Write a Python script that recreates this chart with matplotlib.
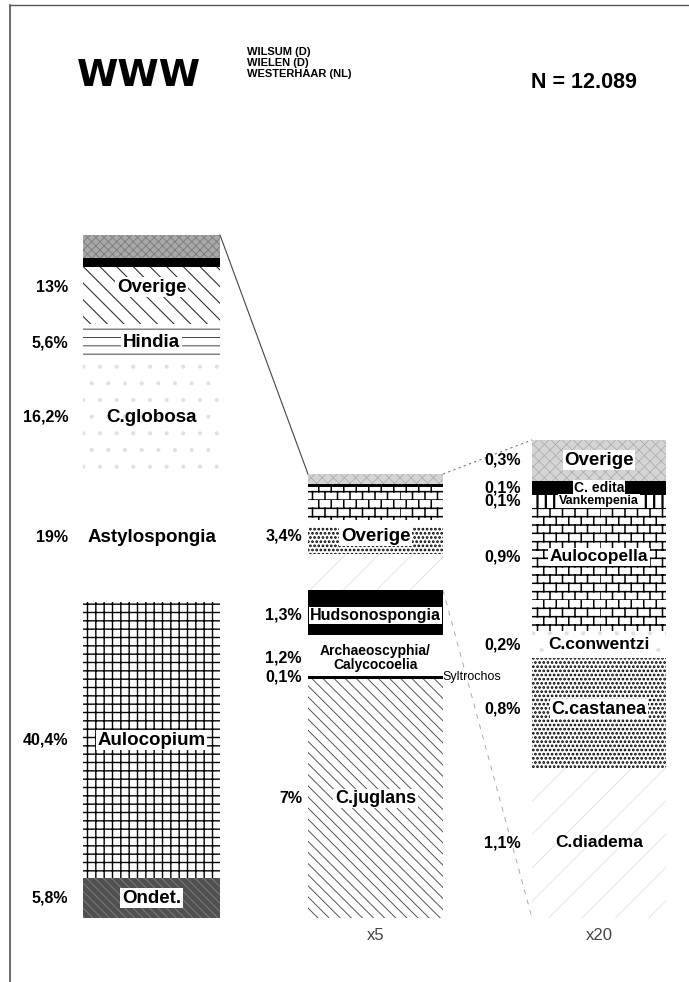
import warnings

import numpy as np
import matplotlib
matplotlib.use("Agg")
import matplotlib.pyplot as plt
from matplotlib import hatch as mhatch
from matplotlib.path import Path
from matplotlib.lines import Line2D

warnings.filterwarnings("ignore")

# ---------------------------------------------------------------- data
left_names = ["Overige", "Hindia", "C.globosa", "Astylospongia", "Aulocopium", "Ondet."]
left_pct = [13, 5.6, 16.2, 19, 40.4, 5.8]

mid_names = ["Overige", "Hudsonospongia", "Archaeoscyphia/\nCalycocoelia",
             "Syltrochos", "C.juglans"]
mid_pct = [3.4, 1.3, 1.2, 0.1, 7]

right_names = ["Overige", "C. edita", "Vankempenia", "Aulocopella",
               "C.conwentzi", "C.castanea", "C.diadema"]
right_pct = [0.3, 0.1, 0.1, 0.9, 0.2, 0.8, 1.1]

mid_factor = 5
right_factor = 20

title = "WWW"
sites = ["WILSUM (D)", "WIELEN (D)", "WESTERHAAR (NL)"]
sample_size = "N = 12.089"


# ---------------------------------------------------------------- brick hatch
class BrickHatch(mhatch.HatchPatternBase):
    """Running-bond brick pattern, selected with the 'k' hatch character."""

    def __init__(self, hatch, density):
        n = hatch.count("k")
        self.num_rows = int(n * density * 2)
        self.num_cols = max(1, int(self.num_rows * 2 / 3))
        self.num_vertices = self.num_rows * (2 + 2 * self.num_cols) if n else 0

    def set_vertices_and_codes(self, vertices, codes):
        h = 1.0 / self.num_rows
        w = 1.0 / self.num_cols
        verts = []
        for r in range(self.num_rows):
            y0 = r * h
            verts += [(0.0, y0), (1.0, y0)]
            off = 0.0 if r % 2 == 0 else w / 2
            for c in range(self.num_cols):
                x = c * w + off
                verts += [(x, y0), (x, y0 + h)]
        vertices[:] = np.array(verts)
        codes[0::2] = Path.MOVETO
        codes[1::2] = Path.LINETO


mhatch._hatch_types.append(BrickHatch)

# ---------------------------------------------------------------- styles
S = {
    "gray_dark": dict(fc="#a8a8a8", hatch="xxxx", hc="#7a7a7a", hlw=0.6),
    "gray_light": dict(fc="#d4d4d4", hatch="xxx", hc="#a8a8a8", hlw=0.5),
    "black": dict(fc="black", hatch=None, hc="black", hlw=1),
    "diag": dict(fc="white", hatch="\\\\", hc="#333333", hlw=0.8),
    "diag_fine": dict(fc="white", hatch="\\\\\\", hc="#555555", hlw=0.7),
    "hlines": dict(fc="white", hatch="--", hc="#444444", hlw=0.7),
    "sparse": dict(fc="white", hatch=".", hc="#e0e0e0", hlw=0.5),
    "white": dict(fc="white", hatch=None, hc="white", hlw=1),
    "grid": dict(fc="white", hatch="++", hc="black", hlw=1.0),
    "dark": dict(fc="#505050", hatch="\\\\\\\\", hc="#7c7c7c", hlw=0.7),
    "brick": dict(fc="white", hatch="k", hc="black", hlw=1.1),
    "pillars": dict(fc="white", hatch="||", hc="black", hlw=1.6),
    "dots": dict(fc="white", hatch="....", hc="black", hlw=1.3),
    "faint_diag": dict(fc="white", hatch="/", hc="#e2e2e2", hlw=0.6),
}

left_style = ["diag", "hlines", "sparse", "white", "grid", "dark"]
mid_style = [None, "black", "white", "black", "diag_fine"]
right_style = ["gray_light", "black", "pillars", "brick", "sparse", "dots", "faint_diag"]
group_style = ["gray_light", "black", "brick", "brick", "sparse", "dots", "faint_diag"]

# ---------------------------------------------------------------- layout
W, H = 689, 982
PX = 6.83          # pixels per percent
BASE = 918         # pixel row of the 0 % baseline

col_x = {"left": 151.5, "mid": 375.5, "right": 599.0}
col_w = {"left": 137, "mid": 135, "right": 134}
pct_gap = {"left": 15, "mid": 6, "right": 11}

name_size = {"Overige": 13.5, "Hindia": 13.5, "C.globosa": 13.5,
             "Astylospongia": 13.5, "Aulocopium": 13.5, "Ondet.": 13.5,
             "Hudsonospongia": 11.5, "Archaeoscyphia/\nCalycocoelia": 10,
             "Syltrochos": 9, "C.juglans": 13,
             "C. edita": 10, "Vankempenia": 9, "Aulocopella": 12.5,
             "C.conwentzi": 12.5, "C.castanea": 13, "C.diadema": 12.5}
# vertical nudges (pixels, positive = up) for a few labels
nudge = {("left", 0): 8, ("mid", 0): -4, ("mid", 1): -3, ("mid", 2): -3,
         ("right", 3): 13, ("right", 5): 4}

FONT = ["Liberation Sans", "DejaVu Sans"]
plt.rcParams["font.family"] = FONT

fig = plt.figure(figsize=(W / 100, H / 100), dpi=100)
ax = fig.add_axes([0, 0, 1, 1])
ax.set_xlim(0, W)
ax.set_ylim(-(H - BASE) / PX, BASE / PX)
ax.axis("off")


def draw_band(x, width, bottom, height, style):
    st = S[style]
    plt.rcParams["hatch.linewidth"] = st["hlw"]
    bar = ax.bar(x, height, bottom=bottom, width=width, color=st["fc"],
                 edgecolor=st["hc"], linewidth=0, hatch=st["hatch"], zorder=2)
    for p in bar.patches:
        if hasattr(p, "set_hatch_linewidth"):
            p.set_hatch_linewidth(st["hlw"])
    return bar


def stack_bottoms(vals):
    vals = np.asarray(vals, dtype=float)
    tops = vals[::-1].cumsum()[::-1]
    return tops - vals


def fmt_pct(v):
    return ("%g" % v).replace(".", ",") + "%"


box = dict(boxstyle="square,pad=0.08", fc="white", ec="none")


def column(key, pct, factor, styles):
    x, w = col_x[key], col_w[key]
    vals = np.asarray(pct, dtype=float) * factor
    bottoms = stack_bottoms(vals)
    for i, (b, v) in enumerate(zip(bottoms, vals)):
        if styles[i] is not None:
            draw_band(x, w, b, v, styles[i])
    return bottoms, vals


def labels(key, names, bottoms, vals, pct, skip_box=()):
    x, w = col_x[key], col_w[key]
    for i, name in enumerate(names):
        yc = bottoms[i] + vals[i] / 2 + nudge.get((key, i), 0) / PX
        ax.text(x - w / 2 - pct_gap[key], yc, fmt_pct(pct[i]), ha="right",
                va="center", fontsize=11.5, fontweight="bold", zorder=5)
        if name == "Syltrochos":
            ax.text(x + w / 2 - 1, yc, name, ha="left", va="center",
                    fontsize=name_size[name], zorder=5)
            continue
        kw = dict(bbox=box) if i not in skip_box else {}
        ax.text(x, yc, name, ha="center", va="center",
                fontsize=name_size[name], fontweight="bold",
                linespacing=1.05, zorder=5, **kw)


# left column: whole sample
lb, lv = column("left", left_pct, 1, left_style)
# top of "Overige": the parts that are expanded in the x5 column
lx, lw = col_x["left"], col_w["left"]
ov_top = lb[0] + lv[0]
draw_band(lx, lw, ov_top - mid_pct[0], mid_pct[0], "gray_dark")
draw_band(lx, lw, ov_top - mid_pct[0] - mid_pct[1], mid_pct[1], "black")
left_label_v = list(lv)
left_label_v[0] = lv[0] - mid_pct[0] - mid_pct[1]
labels("left", left_names, lb, left_label_v, left_pct, skip_box=(2, 3))

# middle column: "Overige" x5
mb, mv = column("mid", mid_pct, mid_factor, mid_style)
group = np.asarray(right_pct) * mid_pct[0] / sum(right_pct) * mid_factor
gb = stack_bottoms(group) + mb[0]
for b, v, st in zip(gb, group, group_style):
    draw_band(col_x["mid"], col_w["mid"], b, v, st)
labels("mid", mid_names, mb, mv, mid_pct, skip_box=(2,))

# right column: "Overige" of the x5 column, x20
rb, rv = column("right", right_pct, right_factor, right_style)
labels("right", right_names, rb, rv, right_pct, skip_box=(6,))

# connector lines between the columns
mid_top = mb[0] + mv[0]
right_top = rb[0] + rv[0]
ax.plot([lx + lw / 2, col_x["mid"] - col_w["mid"] / 2], [ov_top, mid_top],
        color="#444444", lw=0.8, zorder=1)
ax.plot([col_x["mid"] + col_w["mid"] / 2, col_x["right"] - col_w["right"] / 2],
        [mid_top, right_top], color="#777777", lw=0.8, ls=(0, (2, 3)), zorder=1)
ax.plot([col_x["mid"] + col_w["mid"] / 2, col_x["right"] - col_w["right"] / 2],
        [mb[0], 0], color="#aaaaaa", lw=0.7, ls=(0, (5, 6)), zorder=1)

# scale factors under the expanded columns
ax.text(col_x["mid"], -18 / PX, "x%d" % mid_factor, ha="center", va="center",
        fontsize=12, color="#444444")
ax.text(col_x["right"], -18 / PX, "x%d" % right_factor, ha="center", va="center",
        fontsize=12, color="#444444")

# header
fig.text(139 / W, 1 - 86 / H, title, ha="center", va="baseline",
         fontsize=27, fontweight="bold", family=["DejaVu Sans"])
fig.text(247 / W, 1 - 47 / H, "\n".join(sites), ha="left", va="top",
         fontsize=8, fontweight="bold", linespacing=1.12)
fig.text(531 / W, 1 - 88 / H, sample_size, ha="left", va="baseline",
         fontsize=15.5, fontweight="bold")

# page frame
fig.add_artist(Line2D([10 / W, 10 / W], [0, 1 - 5 / H], color="#555555", lw=1.2))
fig.add_artist(Line2D([10 / W, 1], [1 - 5 / H, 1 - 5 / H], color="#555555", lw=1.0))

fig.savefig("out.png", dpi=100, facecolor="white")
